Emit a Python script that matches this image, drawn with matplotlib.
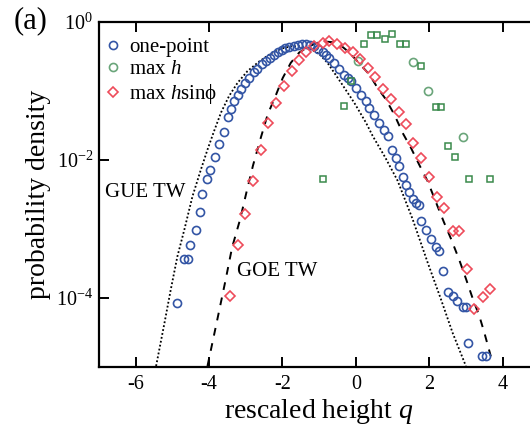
import matplotlib
matplotlib.use("Agg")
import matplotlib.pyplot as plt
from matplotlib.ticker import NullLocator, FixedLocator

plt.rcParams['font.family'] = ['Liberation Serif', 'DejaVu Serif']
plt.rcParams['mathtext.fontset'] = 'custom'
plt.rcParams['mathtext.rm'] = 'Liberation Serif'
plt.rcParams['mathtext.it'] = 'Liberation Serif:italic'
plt.rcParams['axes.unicode_minus'] = False

# ---- data, values as (q, log10 density) ----
one_q = [-4.86, -4.67, -4.58, -4.51, -4.35, -4.24, -4.18, -4.05, -3.96, -3.83, -3.72,
         -3.58, -3.47, -3.40, -3.31, -3.22, -3.13, -3.01, -2.90, -2.78, -2.68, -2.56,
         -2.45, -2.33, -2.22, -2.13, -2.02, -1.92, -1.81, -1.69, -1.58, -1.47, -1.36,
         -1.25, -1.14, -1.03, -0.90, -0.80, -0.72, -0.59, -0.45, -0.31, -0.22, -0.13,
         0.01, 0.14, 0.28, 0.37, 0.50, 0.64, 0.78, 0.87, 1.00, 1.10, 1.19, 1.28, 1.37,
         1.46, 1.55, 1.64, 1.71, 1.78, 1.91, 2.05, 2.19, 2.28, 2.38, 2.50, 2.64, 2.77,
         2.91, 3.00, 3.07, 3.44, 3.55]
one_lg = [-4.07, -3.44, -3.44, -3.24, -3.01, -2.75, -2.50, -2.28, -2.14, -1.96, -1.77,
          -1.60, -1.37, -1.26, -1.15, -1.05, -0.97, -0.88, -0.81, -0.73, -0.68, -0.61,
          -0.57, -0.52, -0.47, -0.44, -0.41, -0.38, -0.36, -0.34, -0.33, -0.32, -0.32,
          -0.33, -0.35, -0.39, -0.44, -0.48, -0.52, -0.59, -0.68, -0.76, -0.81, -0.86,
          -0.95, -1.05, -1.15, -1.24, -1.34, -1.46, -1.56, -1.65, -1.85, -1.97, -2.09,
          -2.24, -2.36, -2.46, -2.57, -2.62, -2.65, -2.89, -3.01, -3.15, -3.27, -3.32,
          -3.61, -3.92, -3.98, -4.05, -4.13, -4.13, -4.66, -4.85, -4.85]

maxh_q = [0.07, 1.55, 1.96, 2.91]
maxh_lg = [-0.57, -0.58, -1.00, -1.66]

maxh2_q = [-0.88, -0.31, -0.13, 0.23, 0.41, 0.59, 0.80, 1.00, 1.20, 1.38, 1.78,
           2.19, 2.32, 2.52, 2.71, 3.09, 3.66]
maxh2_lg = [-2.27, -1.22, -0.86, -0.31, -0.18, -0.18, -0.24, -0.17, -0.32, -0.32, -0.64,
            -1.23, -1.23, -1.79, -1.96, -2.27, -2.27]

sin_q = [-3.43, -3.22, -3.01, -2.81, -2.58, -2.38, -2.17, -1.95, -1.75, -1.54, -1.36,
         -1.13, -0.90, -0.72, -0.50, -0.29, -0.07, 0.11, 0.32, 0.53, 0.75, 0.96, 1.17,
         1.37, 1.57, 1.78, 1.99, 2.21, 2.41, 2.64, 2.82, 3.02, 3.23, 3.46, 3.66]
sin_lg = [-3.97, -3.24, -2.78, -2.31, -1.85, -1.46, -1.18, -0.93, -0.71, -0.55, -0.44,
          -0.35, -0.30, -0.28, -0.32, -0.37, -0.44, -0.53, -0.66, -0.79, -0.97, -1.12,
          -1.31, -1.48, -1.75, -1.97, -2.24, -2.54, -2.70, -3.03, -3.03, -3.58, -4.16,
          -3.99, -3.87]

gue_q = [-5.44, -5.21, -5.04, -4.86, -4.67, -4.45, -4.22, -4.04, -3.86, -3.67, -3.45,
         -3.22, -2.95, -2.63, -2.27, -2.00, -1.76, -1.50, -1.27, -1.00, -0.77, -0.40,
         -0.04, 0.28, 0.46, 0.80, 1.14, 1.55, 1.96, 2.32, 2.64, 3.00]
gue_lg = [-4.99, -4.36, -3.88, -3.40, -3.01, -2.53, -2.14, -1.85, -1.58, -1.31, -1.07,
          -0.88, -0.71, -0.57, -0.44, -0.38, -0.35, -0.35, -0.38, -0.46, -0.59, -0.88,
          -1.17, -1.46, -1.65, -1.96, -2.30, -2.86, -3.49, -4.02, -4.51, -4.99]

goe_q = [-4.04, -3.77, -3.55, -3.37, -3.15, -2.97, -2.80, -2.60, -2.40, -2.17, -1.99,
         -1.77, -1.54, -1.27, -1.05, -0.86, -0.65, -0.45, -0.22, 0.05, 0.37, 0.59, 0.82,
         1.05, 1.28, 1.50, 1.73, 1.96, 2.19, 2.40, 2.60, 2.82, 3.00, 3.18, 3.37, 3.50,
         3.68]
goe_lg = [-4.99, -4.31, -3.75, -3.27, -2.86, -2.45, -2.08, -1.70, -1.34, -1.05, -0.81,
          -0.59, -0.44, -0.35, -0.30, -0.28, -0.29, -0.32, -0.42, -0.57, -0.76, -0.95,
          -1.12, -1.34, -1.61, -1.82, -2.07, -2.31, -2.62, -2.90, -3.15, -3.45, -3.72,
          -4.00, -4.27, -4.50, -4.85]


def dens(lg):
    return [10.0 ** v for v in lg]


fig = plt.figure(figsize=(5.30, 4.28), dpi=100)
ax = fig.add_axes([0.1865, 0.1432, 0.831, 0.805])

ax.plot(gue_q, dens(gue_lg), color='black', ls=(0, (1, 1.2)), lw=1.3)
ax.plot(goe_q, dens(goe_lg), color='black', ls=(0, (4, 4)), lw=1.4)

blue = '#3355a5'
green = '#3a8a4c'
green_l = '#6aa57a'
red = '#ee4b5a'

ax.plot(one_q, dens(one_lg), 'o', mfc='none', mec=blue, mew=1.2, ms=5.8,
        label='one-point', zorder=3)
ax.plot(maxh_q, dens(maxh_lg), 'o', mfc='none', mec=green_l, mew=1.2, ms=5.8,
        label='max $h$', zorder=3)
ax.plot(maxh2_q, dens(maxh2_lg), 's', mfc='none', mec=green, mew=1.1, ms=5.0,
        zorder=3)
ax.plot(sin_q, dens(sin_lg), 'D', mfc='none', mec=red, mew=1.2, ms=5.0,
        label='max $h$sin\u03d5', zorder=3)

ax.set_yscale('log')
ax.set_xlim(-7, 5)
ax.set_ylim(1e-5, 1e0)
ax.yaxis.set_major_locator(FixedLocator([1e0, 1e-2, 1e-4]))
ax.yaxis.set_minor_locator(NullLocator())
ax.set_xticks([-6, -4, -2, 0, 2, 4])

for s in ax.spines.values():
    s.set_linewidth(1.6)
ax.tick_params(axis='both', which='both', direction='in', length=7, width=1.4,
               labelsize=14.5, top=True, right=False, pad=6)
ax.tick_params(axis='y', pad=4)

ax.set_xlabel('rescaled height $q$', fontsize=20, labelpad=2)
ax.set_ylabel('probability density', fontsize=20, labelpad=4)

ax.text(-6.83, 10 ** -2.47, 'GUE TW', fontsize=15, va='center', ha='left')
ax.text(-3.23, 10 ** -3.62, 'GOE TW', fontsize=15, va='center', ha='left')
fig.text(14 / 530, 1 - 21 / 428, '(a)', fontsize=22, va='center', ha='left')

leg = ax.legend(loc='upper left', bbox_to_anchor=(-0.012, 0.985), frameon=False,
                fontsize=15, handlelength=0.9, handletextpad=0.3,
                labelspacing=0.12, borderaxespad=0.3, borderpad=0.2)

fig.savefig('out.png', dpi=100)
